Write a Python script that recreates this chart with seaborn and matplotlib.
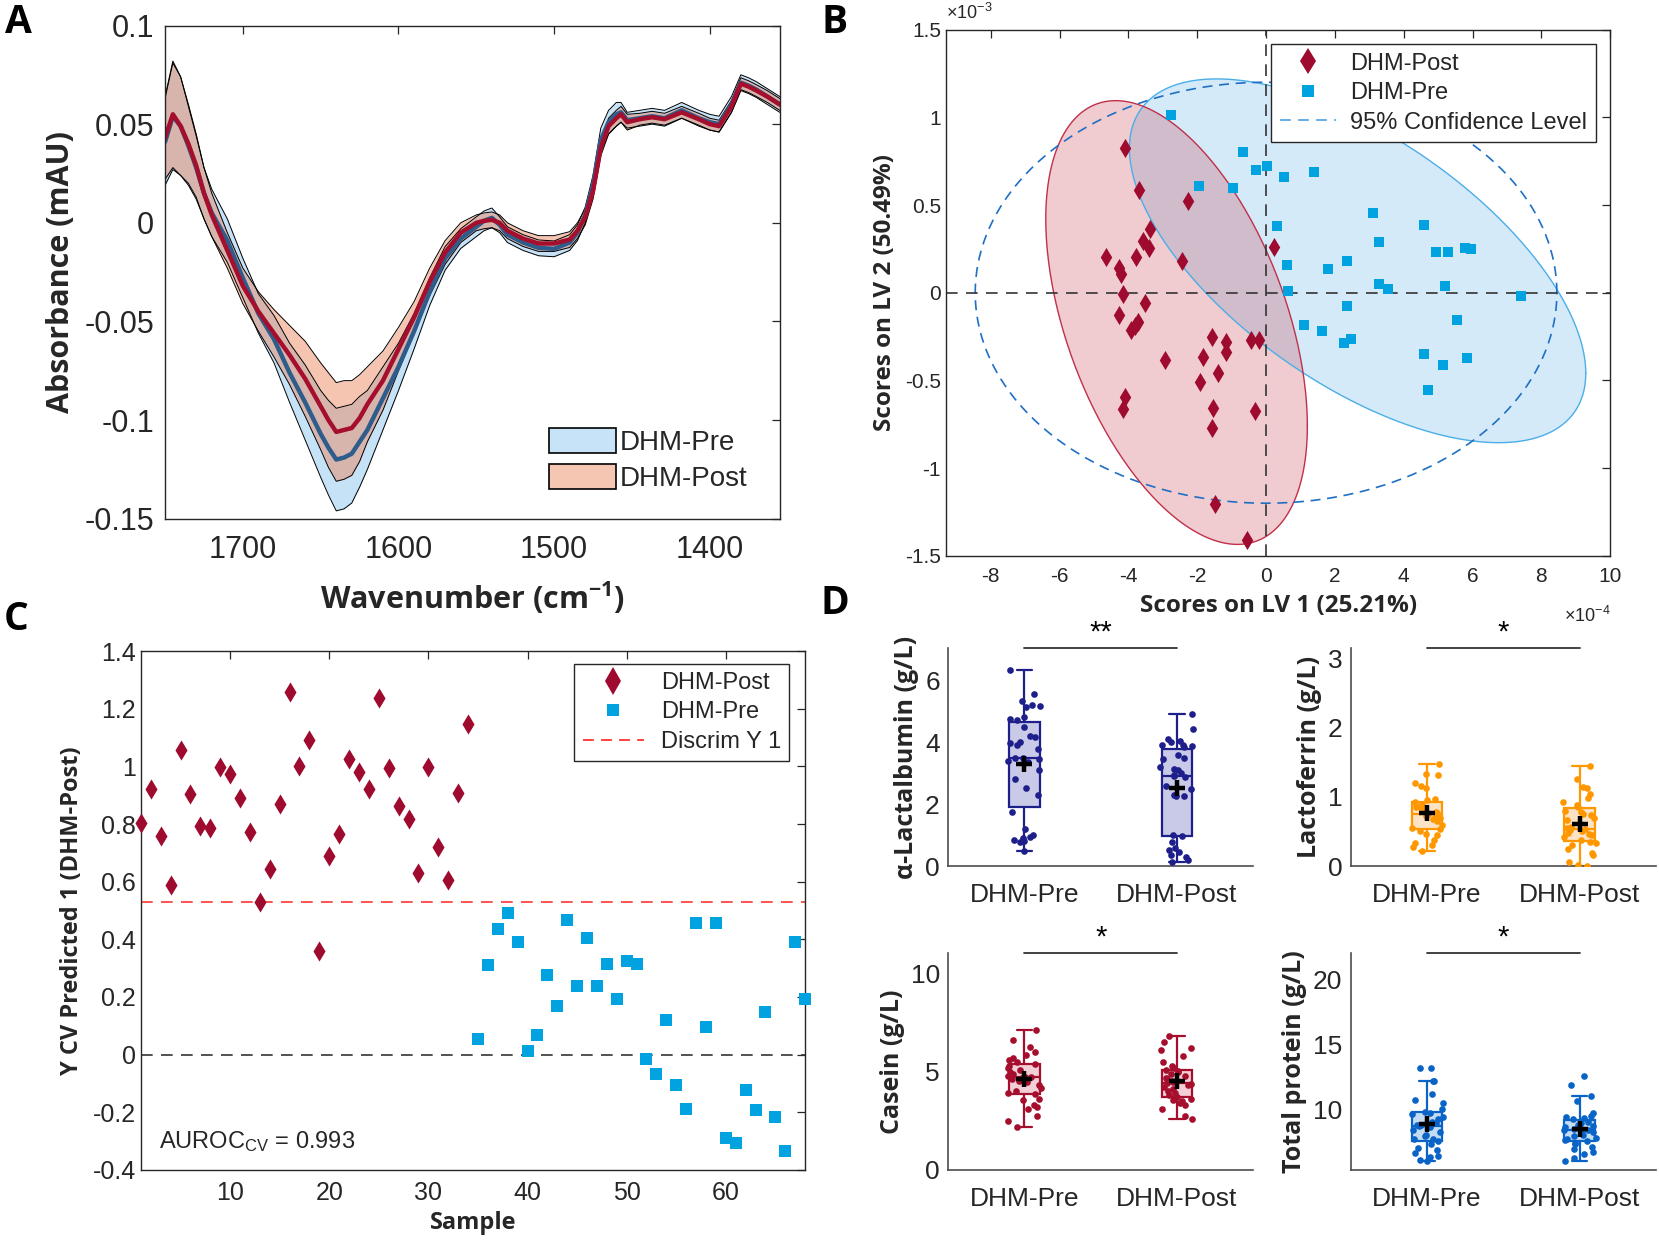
import numpy as np
import pandas as pd
import matplotlib
matplotlib.use("Agg")
import matplotlib.pyplot as plt
import seaborn as sns
from matplotlib.patches import Patch
from matplotlib.lines import Line2D
from matplotlib.ticker import FuncFormatter

sns.set_style("white")
plt.rcParams['font.family'] = ['Liberation Sans', 'DejaVu Sans']
plt.rcParams['axes.unicode_minus'] = False
plt.rcParams['mathtext.fontset'] = 'custom'
plt.rcParams['mathtext.rm'] = 'Liberation Sans'
plt.rcParams['mathtext.it'] = 'Liberation Sans:italic'
plt.rcParams['mathtext.bf'] = 'Open Sans:bold'

# ---------------- Panel A data (spectra) ----------------
wn = [1750, 1745, 1740, 1735, 1730, 1725, 1720, 1710, 1700, 1690, 1680, 1670, 1660, 1650,
      1645, 1640, 1635, 1630, 1625, 1620, 1610, 1600, 1590, 1580, 1570, 1560, 1550, 1545,
      1540, 1535, 1530, 1520, 1510, 1500, 1490, 1485, 1480, 1475, 1470, 1465, 1460, 1457,
      1453, 1445, 1437, 1429, 1418, 1407, 1400, 1394, 1386, 1380, 1375, 1370, 1363, 1355]
post_mean = [0.043, 0.055, 0.049, 0.040, 0.029, 0.015, 0.004, -0.014, -0.032, -0.045, -0.056,
             -0.067, -0.079, -0.093, -0.100, -0.106, -0.105, -0.104, -0.099, -0.092, -0.080,
             -0.064, -0.048, -0.030, -0.015, -0.005, 0.000, 0.001, 0.0015, 0.000, -0.004,
             -0.008, -0.0105, -0.0105, -0.0085, -0.004, 0.003, 0.016, 0.038, 0.049, 0.053,
             0.055, 0.051, 0.0525, 0.0535, 0.0525, 0.056, 0.0525, 0.050, 0.049, 0.059, 0.0705,
             0.069, 0.067, 0.064, 0.060]
pre_mean = [0.041, 0.054, 0.049, 0.039, 0.028, 0.015, 0.005, -0.009, -0.028, -0.046, -0.059,
            -0.076, -0.091, -0.107, -0.114, -0.120, -0.119, -0.117, -0.111, -0.105, -0.089,
            -0.073, -0.055, -0.035, -0.018, -0.008, -0.002, 0.001, 0.0025, -0.001, -0.006,
            -0.010, -0.0127, -0.0132, -0.010, -0.005, 0.004, 0.019, 0.042, 0.051, 0.055,
            0.056, 0.052, 0.053, 0.054, 0.053, 0.057, 0.053, 0.051, 0.050, 0.060, 0.071,
            0.0695, 0.0675, 0.064, 0.060]
post_sd = [0.021, 0.027, 0.025, 0.020, 0.016, 0.013, 0.011, 0.009, 0.009, 0.010, 0.012, 0.015,
           0.019, 0.022, 0.024, 0.025, 0.025, 0.024, 0.022, 0.019, 0.015, 0.011, 0.008, 0.007,
           0.006, 0.005, 0.004, 0.004, 0.004, 0.004, 0.004, 0.004, 0.004, 0.004, 0.004, 0.004,
           0.004, 0.004, 0.004, 0.004, 0.004, 0.004, 0.004, 0.003, 0.003, 0.003, 0.003, 0.003,
           0.003, 0.003, 0.003, 0.003, 0.003, 0.003, 0.003, 0.003]
pre_sd = [0.022, 0.027, 0.025, 0.020, 0.016, 0.013, 0.012, 0.011, 0.010, 0.010, 0.012, 0.015,
          0.019, 0.022, 0.024, 0.026, 0.026, 0.025, 0.023, 0.020, 0.016, 0.012, 0.009, 0.007,
          0.006, 0.005, 0.005, 0.005, 0.005, 0.004, 0.004, 0.004, 0.004, 0.004, 0.004, 0.004,
          0.004, 0.005, 0.006, 0.006, 0.006, 0.005, 0.004, 0.004, 0.004, 0.004, 0.004, 0.004,
          0.004, 0.004, 0.004, 0.004, 0.004, 0.004, 0.004, 0.004]

# ---------------- Panel B data (scores, LV1 in 1e-4, LV2 in 1e-3) ----------------
post_lv1 = [-4.11, -3.68, -2.28, -3.37, -3.57, -3.41, -3.77, -4.64, -4.27, -4.20, -2.44, 0.24,
            -4.17, -3.51, -4.27, -3.71, -3.80, -3.91, -1.57, -1.15, -1.17, -0.44, -0.20, -2.95,
            -1.84, -1.41, -1.91, -4.11, -4.17, -1.53, -0.33, -1.57, -1.47, -0.55]
post_lv2 = [0.827, 0.583, 0.521, 0.365, 0.292, 0.254, 0.206, 0.206, 0.143, 0.107, 0.183, 0.260,
            -0.010, -0.061, -0.128, -0.166, -0.189, -0.214, -0.252, -0.281, -0.338, -0.271,
            -0.271, -0.386, -0.367, -0.457, -0.510, -0.596, -0.663, -0.657, -0.672, -0.774,
            -1.207, -1.408]
pre_lv1 = [-1.95, -0.96, -0.66, -0.30, 0.04, 0.52, 1.38, 0.33, 3.10, 3.29, 4.60, 4.94, 5.28,
           5.79, 5.96, 0.62, 1.81, 2.34, 0.65, 3.29, 3.53, 5.20, 7.40, 2.34, 5.54, 1.11, 1.64,
           2.47, 2.27, 4.60, 5.84, 5.14, 4.72, -2.77]
pre_lv2 = [0.610, 0.596, 0.802, 0.697, 0.721, 0.657, 0.687, 0.380, 0.455, 0.287, 0.384, 0.232,
           0.232, 0.253, 0.251, 0.158, 0.135, 0.182, 0.010, 0.051, 0.020, 0.038, -0.016, -0.075,
           -0.158, -0.182, -0.216, -0.263, -0.289, -0.347, -0.374, -0.412, -0.552, 1.014]
# confidence ellipses: Post, Pre, overall 95% level
ell_cx = [-2.60, 2.66, 0.0]
ell_cy = [-0.17, 0.182, 0.0]
ell_wx = [3.80, 6.63, 8.45]
ell_hy = [1.265, 1.037, 1.20]
ell_r = [-0.466, -0.618, 0.0]

# ---------------- Panel C data ----------------
sample_post = list(range(1, 35))
sample_pre = list(range(35, 69))
ycv_post = [0.802, 0.921, 0.758, 0.589, 1.056, 0.904, 0.793, 0.787, 0.998, 0.973, 0.892, 0.772,
            0.531, 0.643, 0.869, 1.257, 1.000, 1.093, 0.361, 0.690, 0.767, 1.026, 0.981, 0.922,
            1.237, 0.996, 0.862, 0.819, 0.629, 0.999, 0.720, 0.606, 0.909, 1.148]
ycv_pre = [0.054, 0.312, 0.435, 0.491, 0.390, 0.014, 0.068, 0.277, 0.167, 0.468, 0.237, 0.406,
           0.237, 0.316, 0.193, 0.323, 0.314, -0.015, -0.066, 0.121, -0.107, -0.188, 0.458,
           0.095, 0.455, -0.289, -0.306, -0.124, -0.194, 0.148, -0.218, -0.335, 0.389, 0.193]
discrim_y = 0.531
auroc = 0.993

# ---------------- Panel D data (g/L) ----------------
groups = ['DHM-Pre', 'DHM-Post']
alac_pre = [6.33, 5.55, 5.35, 5.22, 5.18, 5.15, 4.82, 4.75, 4.72, 4.50, 4.22, 4.18, 4.02, 3.97,
            3.92, 3.78, 3.50, 3.48, 3.45, 3.40, 3.35, 3.10, 2.80, 2.52, 2.30, 1.76, 1.19, 1.02,
            0.95, 0.92, 0.85, 0.80, 0.78, 0.50]
alac_post = [0.14, 0.19, 0.30, 0.36, 0.46, 0.52, 0.57, 0.79, 0.98, 1.00, 2.25, 2.28, 2.30, 2.50,
             2.60, 2.88, 2.90, 2.95, 3.00, 3.10, 3.15, 3.20, 3.45, 3.50, 3.60, 3.85, 3.88, 3.90,
             3.92, 4.00, 4.05, 4.10, 4.42, 4.92]
lf_pre = [1.48, 1.33, 1.31, 1.20, 1.15, 1.13, 0.97, 0.95, 0.93, 0.90, 0.88, 0.86, 0.85, 0.82,
          0.80, 0.78, 0.76, 0.75, 0.73, 0.72, 0.70, 0.68, 0.65, 0.60, 0.55, 0.53, 0.50, 0.47,
          0.45, 0.38, 0.33, 0.30, 0.27, 0.22]
lf_post = [1.45, 1.26, 1.14, 1.13, 1.04, 0.98, 0.92, 0.88, 0.86, 0.80, 0.78, 0.75, 0.74, 0.70,
           0.66, 0.56, 0.53, 0.55, 0.52, 0.50, 0.48, 0.47, 0.45, 0.42, 0.38, 0.35, 0.33, 0.30,
           0.25, 0.19, 0.16, 0.06, 0.02, 0.00]
cas_pre = [7.10, 6.60, 6.25, 6.00, 5.85, 5.70, 5.60, 5.50, 5.40, 5.30, 5.20, 5.10, 5.00, 4.90,
           4.80, 4.75, 4.75, 4.70, 4.60, 4.50, 4.45, 4.30, 4.15, 4.00, 3.90, 3.85, 3.60, 3.55,
           3.30, 3.20, 3.10, 2.76, 2.50, 2.20]
cas_post = [6.83, 6.50, 6.20, 6.10, 5.80, 5.50, 5.30, 5.20, 5.10, 5.05, 5.00, 4.90, 4.80, 4.70,
            4.60, 4.50, 4.45, 4.40, 4.35, 4.30, 4.20, 4.10, 4.00, 3.90, 3.80, 3.70, 3.60, 3.55,
            3.50, 3.40, 3.30, 3.10, 2.76, 2.60]
tp_pre = [13.2, 13.2, 12.2, 12.2, 11.15, 10.7, 10.45, 10.0, 9.8, 9.7, 9.6, 9.4, 9.2, 9.0, 8.9,
          8.8, 8.75, 8.7, 8.6, 8.4, 8.2, 8.0, 7.9, 7.7, 7.65, 7.5, 7.3, 7.0, 6.8, 6.6, 6.4, 6.3,
          6.1, 6.0]
tp_post = [12.55, 11.85, 11.0, 10.65, 9.7, 9.5, 9.4, 9.3, 9.2, 9.0, 8.9, 8.8, 8.7, 8.6, 8.5,
           8.45, 8.4, 8.35, 8.3, 8.2, 8.0, 7.9, 7.8, 7.7, 7.6, 7.5, 7.4, 7.3, 7.1, 6.9, 6.7, 6.5,
           6.2, 6.0]

# ---------------- styling ----------------
INK = '#262626'
POST_C = '#9e0b2e'
PRE_C = '#00a3e0'
LABEL_FONT = dict(family=['Open Sans', 'DejaVu Sans'], weight='bold')
gfmt = FuncFormatter(lambda v, p: f"{v:g}")


def box_axes(ax, fs):
    for s in ax.spines.values():
        s.set_visible(True)
        s.set_color(INK)
        s.set_linewidth(1.0)
    ax.tick_params(direction='in', length=6, width=0.9, top=True, right=True,
                   labelsize=fs, colors=INK, labelcolor=INK)


fig = plt.figure(figsize=(16.59, 12.44), dpi=100)
fig.patch.set_facecolor('white')

# ================= Panel A =================
axA = fig.add_axes([0.0995, 0.583, 0.3705, 0.3965])
wn_a = np.array(wn)
pre_lo = np.array(pre_mean) - np.array(pre_sd)
pre_hi = np.array(pre_mean) + np.array(pre_sd)
post_lo = np.array(post_mean) - np.array(post_sd)
post_hi = np.array(post_mean) + np.array(post_sd)
PRE_FILL = (0.55, 0.78, 0.94)
POST_FILL = (0.93, 0.50, 0.33)
axA.fill_between(wn_a, pre_lo, pre_hi, color=PRE_FILL, alpha=0.5, lw=0)
axA.fill_between(wn_a, post_lo, post_hi, color=POST_FILL, alpha=0.45, lw=0)
for arr in (pre_lo, pre_hi, post_lo, post_hi):
    axA.plot(wn_a, arr, color='black', lw=0.7)
sns.lineplot(x=wn_a, y=np.array(pre_mean), ax=axA, color='#2e5d8c', lw=3.2, sort=False)
sns.lineplot(x=wn_a, y=np.array(post_mean), ax=axA, color='#a50f2d', lw=3.2, sort=False)
axA.set_xlim(1750, 1355)
axA.set_ylim(-0.15, 0.1)
axA.set_xticks([1700, 1600, 1500, 1400])
axA.set_yticks([-0.15, -0.1, -0.05, 0, 0.05, 0.1])
axA.yaxis.set_major_formatter(gfmt)
box_axes(axA, 22)
axA.tick_params(axis='x', pad=12)
axA.tick_params(axis='y', pad=8)
axA.set_xlabel(r"Wavenumber (cm$^{\mathbf{-1}}$)", fontsize=22, labelpad=10, color=INK, **LABEL_FONT)
axA.set_ylabel("Absorbance (mAU)", fontsize=22, labelpad=6, color=INK, **LABEL_FONT)
legA = axA.legend(handles=[Patch(facecolor=(0.78, 0.89, 0.97), edgecolor='black', lw=1.2, label='DHM-Pre'),
                           Patch(facecolor=(0.96, 0.78, 0.70), edgecolor='black', lw=1.2, label='DHM-Post'),],
                  loc='lower right', bbox_to_anchor=(0.975, 0.02), frameon=False, fontsize=20,
                  handlelength=2.4, handleheight=1.0, handletextpad=0.15, labelspacing=0.3,
                  borderaxespad=0.2)

# ================= Panel B =================
axB = fig.add_axes([0.5702, 0.5532, 0.4004, 0.4230])
tt = np.linspace(0, 2 * np.pi, 361)


def ellipse(i):
    ex = ell_cx[i] + ell_wx[i] * np.cos(tt)
    ey = ell_cy[i] + ell_hy[i] * (ell_r[i] * np.cos(tt) + np.sqrt(1 - ell_r[i] ** 2) * np.sin(tt))
    return ex, ey


ex1, ey1 = ellipse(1)
ex0, ey0 = ellipse(0)
ex2, ey2 = ellipse(2)
axB.fill(ex1, ey1, color=(0.35, 0.68, 0.92), alpha=0.25, lw=0, zorder=1)
axB.fill(ex0, ey0, color=(0.78, 0.20, 0.27), alpha=0.25, lw=0, zorder=1)
axB.plot(ex1, ey1, color='#4aaee8', lw=1.0, zorder=2)
axB.plot(ex0, ey0, color='#c0304a', lw=1.0, zorder=2)
axB.plot(ex2, ey2, color='#1f6fc5', lw=1.2, ls=(0, (6, 4)), zorder=2)
axB.axhline(0, color='#333333', lw=1.2, ls=(0, (7, 5)), zorder=2)
axB.axvline(0, color='#333333', lw=1.2, ls=(0, (7, 5)), zorder=2)
sns.scatterplot(x=pre_lv1, y=pre_lv2, ax=axB, marker='s', color=PRE_C, s=58, linewidth=0, zorder=4)
sns.scatterplot(x=post_lv1, y=post_lv2, ax=axB, marker='d', color=POST_C, s=95, linewidth=0, zorder=4)
axB.set_xlim(-9.3, 10)
axB.set_ylim(-1.5, 1.5)
axB.set_xticks(np.arange(-8, 11, 2))
axB.set_yticks(np.arange(-1.5, 1.6, 0.5))
axB.xaxis.set_major_formatter(gfmt)
axB.yaxis.set_major_formatter(gfmt)
box_axes(axB, 15)
axB.tick_params(axis='x', pad=8)
axB.set_xlabel("Scores on LV 1 (25.21%)", fontsize=17.5, labelpad=6, color=INK, **LABEL_FONT)
axB.set_ylabel("Scores on LV 2 (50.49%)", fontsize=17.5, labelpad=6, color=INK, **LABEL_FONT)
axB.text(0.0, 1.012, r"$\times$10$^{-3}$", transform=axB.transAxes, fontsize=13, color=INK,
         ha='left', va='bottom')
axB.text(1.0, -0.095, r"$\times$10$^{-4}$", transform=axB.transAxes, fontsize=13, color=INK,
         ha='right', va='top')
legB = axB.legend(handles=[Line2D([], [], marker='d', ls='', color=POST_C, markersize=13, mew=0, label='DHM-Post'),
                           Line2D([], [], marker='s', ls='', color=PRE_C, markersize=8, mew=0, label='DHM-Pre'),
                           Line2D([], [], color='#5aa9e6', lw=1.3, ls=(0, (6, 4)), label='95% Confidence Level')],
                  loc='upper right', bbox_to_anchor=(0.978, 0.972), fontsize=17, frameon=True,
                  fancybox=False, framealpha=1, edgecolor=INK, borderpad=0.35, handlelength=2.4,
                  labelspacing=0.32, handletextpad=0.6, borderaxespad=0)
legB.get_frame().set_linewidth(1.0)

# ================= Panel C =================
axC = fig.add_axes([0.0849, 0.0596, 0.4004, 0.4170])
axC.axhline(discrim_y, color='#ff3333', lw=1.2, ls=(0, (7, 5)), zorder=2)
axC.axhline(0, color='#333333', lw=1.2, ls=(0, (7, 5)), zorder=2)
sns.scatterplot(x=sample_post, y=ycv_post, ax=axC, marker='d', color=POST_C, s=105, linewidth=0,
                zorder=4, clip_on=False)
sns.scatterplot(x=sample_pre, y=ycv_pre, ax=axC, marker='s', color=PRE_C, s=66, linewidth=0,
                zorder=4, clip_on=False)
axC.set_xlim(1, 68)
axC.set_ylim(-0.4, 1.4)
axC.set_xticks(np.arange(10, 61, 10))
axC.set_yticks(np.round(np.arange(-0.4, 1.41, 0.2), 1))
axC.yaxis.set_major_formatter(gfmt)
box_axes(axC, 18)
axC.tick_params(axis='x', pad=8)
axC.set_xlabel("Sample", fontsize=17, labelpad=4, color=INK, **LABEL_FONT)
axC.set_ylabel("Y CV Predicted 1 (DHM-Post)", fontsize=17, labelpad=6, color=INK, **LABEL_FONT)
axC.text(0.027, 0.055, r"AUROC$_{\mathrm{CV}}$ = " + f"{auroc:.3f}", transform=axC.transAxes,
         fontsize=17, color=INK, ha='left', va='center')
legC = axC.legend(handles=[Line2D([], [], marker='d', ls='', color=POST_C, markersize=14, mew=0, label='DHM-Post'),
                           Line2D([], [], marker='s', ls='', color=PRE_C, markersize=8.5, mew=0, label='DHM-Pre'),
                           Line2D([], [], color='#ff3333', lw=1.3, ls=(0, (6, 4)), label='Discrim Y 1')],
                  loc='upper right', bbox_to_anchor=(0.976, 0.976), fontsize=17, frameon=True,
                  fancybox=False, framealpha=1, edgecolor=INK, borderpad=0.35, handlelength=2.6,
                  labelspacing=0.32, handletextpad=0.7, borderaxespad=0)
legC.get_frame().set_linewidth(1.0)

# ================= Panel D =================
np.random.seed(7)


def box_panel(ax, pre, post, edge, fill, ylim, yticks, ylabel, stars):
    df = pd.DataFrame({'Group': ['DHM-Pre'] * len(pre) + ['DHM-Post'] * len(post),
                       'Value': list(pre) + list(post)})
    sns.boxplot(data=df, x='Group', y='Value', order=groups, ax=ax, width=0.2, color=fill,
                linecolor=edge, linewidth=1.6, fliersize=0, saturation=1, whis=1.5)
    sns.stripplot(data=df, x='Group', y='Value', order=groups, ax=ax, color=edge, size=4.8,
                  jitter=0.11, linewidth=0)
    means = [np.mean(pre), np.mean(post)]
    ax.scatter([0, 1], means, marker='+', s=140, color='black', linewidths=3.2, zorder=6)
    ax.set_xlim(-0.5, 1.5)
    ax.set_ylim(*ylim)
    ax.set_yticks(yticks)
    ax.yaxis.set_major_formatter(gfmt)
    for side in ('top', 'right'):
        ax.spines[side].set_visible(False)
    for side in ('left', 'bottom'):
        ax.spines[side].set_visible(True)
        ax.spines[side].set_color('#4d4d4d')
        ax.spines[side].set_linewidth(1.2)
    ax.tick_params(axis='y', direction='in', length=4, width=0.8, labelsize=19, colors=INK, pad=6)
    ax.tick_params(axis='x', length=0, labelsize=19, colors=INK, pad=12)
    ax.set_xlabel('')
    ax.set_ylabel(ylabel, fontsize=18, color=INK, labelpad=4, **LABEL_FONT)
    ytop = ylim[1]
    ax.plot([0, 1], [ytop, ytop], color='#333333', lw=1.3, clip_on=False)
    ax.annotate(stars, xy=(0.5, ytop), xytext=(0, 1), textcoords='offset points',
                ha='center', va='bottom', fontsize=21, color='black')


axD1 = fig.add_axes([0.5715, 0.3038, 0.1839, 0.1753])
axD2 = fig.add_axes([0.8142, 0.3038, 0.1839, 0.1753])
axD3 = fig.add_axes([0.5715, 0.0596, 0.1839, 0.1745])
axD4 = fig.add_axes([0.8142, 0.0596, 0.1839, 0.1745])
box_panel(axD1, alac_pre, alac_post, '#1f1f8c', '#c9c9e8', (0, 7.05), [0, 2, 4, 6],
          "α-Lactalbumin (g/L)", "**")
box_panel(axD2, lf_pre, lf_post, '#ff9800', '#fde3c6', (0, 3.15), [0, 1, 2, 3],
          "Lactoferrin (g/L)", "*")
box_panel(axD3, cas_pre, cas_post, '#a50f2d', '#f2cfd6', (0, 11.05), [0, 5, 10],
          "Casein (g/L)", "*")
box_panel(axD4, tp_pre, tp_post, '#0a64c8', '#c4dcf2', (5.3, 22.1), [10, 15, 20],
          "Total protein (g/L)", "*")

# panel letters
for lab, x, y in (('A', 0.011, 0.982), ('B', 0.503, 0.982), ('C', 0.010, 0.502), ('D', 0.503, 0.515)):
    fig.text(x, y, lab, fontsize=28, fontweight='bold', ha='center', va='center',
             family=['Open Sans', 'DejaVu Sans'], color='black')

fig.savefig('out.png', dpi=100, facecolor='white')
